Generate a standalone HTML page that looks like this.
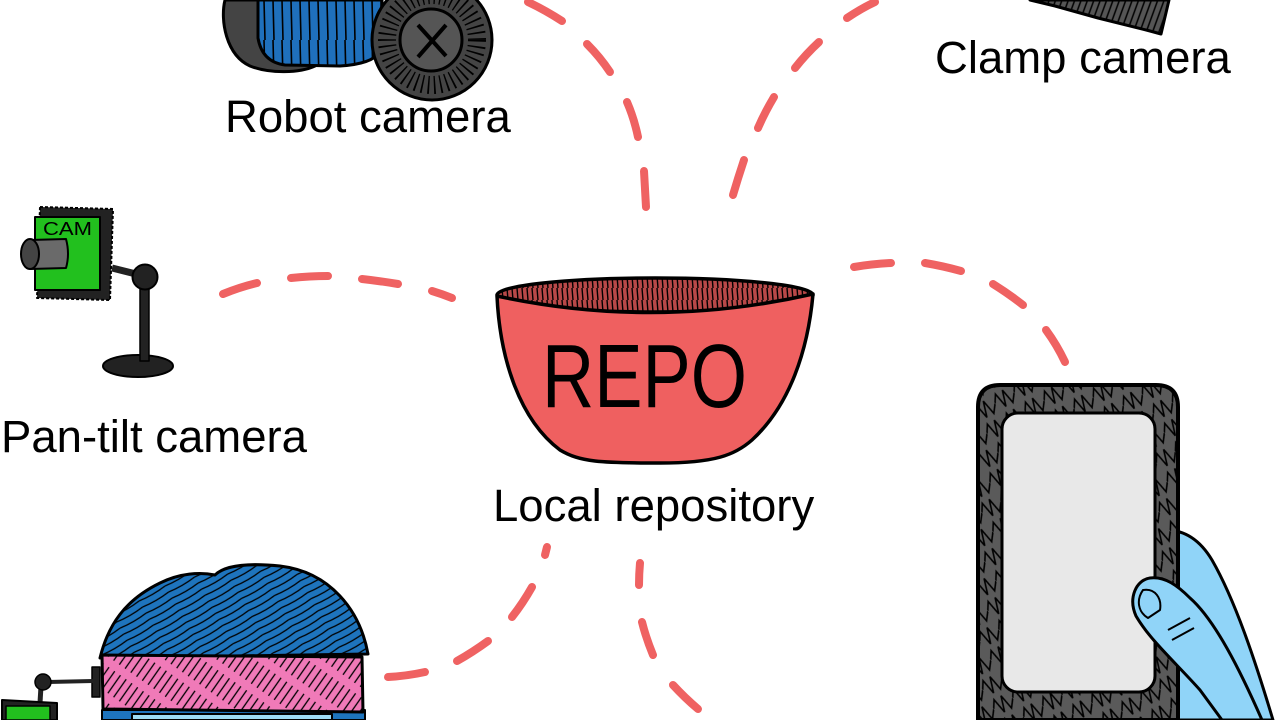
<!DOCTYPE html>
<html><head><meta charset="utf-8">
<style>
html,body{margin:0;padding:0;background:#fff;width:1280px;height:720px;overflow:hidden;}
svg{display:block;overflow:hidden;}
.lbl{font-family:"Liberation Sans",Arial,sans-serif;font-size:45.5px;fill:#000;}
</style></head>
<body>
<svg width="1280" height="720" viewBox="0 0 1280 720" xmlns="http://www.w3.org/2000/svg">
<defs>
  <clipPath id="frame"><rect x="0" y="0" width="1280" height="720"/></clipPath>
  <pattern id="vh" width="5" height="12" patternUnits="userSpaceOnUse">
    <rect width="5" height="12" fill="#b84848"/>
    <path d="M2,0 L3,12" stroke="#000" stroke-width="1.4"/>
  </pattern>
  <pattern id="bodyh" width="9" height="40" patternUnits="userSpaceOnUse">
    <rect width="9" height="40" fill="#1f70bd"/>
    <path d="M3,0 L4,40" stroke="#000" stroke-width="1.6"/>
  </pattern>
  <pattern id="hairp" width="7" height="30" patternUnits="userSpaceOnUse" patternTransform="rotate(60)">
    <rect width="7" height="30" fill="#1e74bd"/>
    <path d="M2,0 Q4,15 2,30" stroke="#000" stroke-width="1.3" fill="none"/>
  </pattern>
  <pattern id="bandp" width="7" height="30" patternUnits="userSpaceOnUse" patternTransform="rotate(35)">
    <rect width="7" height="30" fill="#f07ab8"/>
    <path d="M3,4 L3,26" stroke="#000" stroke-width="1.3"/>
  </pattern>
  <pattern id="grayh" width="6" height="30" patternUnits="userSpaceOnUse" patternTransform="rotate(20)">
    <rect width="6" height="30" fill="#555"/>
    <path d="M2,0 L2,30" stroke="#000" stroke-width="1.5"/>
  </pattern>
  <pattern id="zig" width="22" height="22" patternUnits="userSpaceOnUse" patternTransform="rotate(-30)">
    <rect width="22" height="22" fill="#5a5a5a"/>
    <path d="M0,11 L5,3 L8,19 L13,3 L16,19 L22,11" stroke="#000" stroke-width="1.6" fill="none"/>
  </pattern>
</defs>

<g clip-path="url(#frame)">
<!-- dashed connectors -->
<g stroke="#ef6262" stroke-width="8" stroke-linecap="round" fill="none">
  <path d="M528,2 Q545,10 562,21"/>
  <path d="M587,44 Q600,57 610,72"/>
  <path d="M627,102 Q634,118 638,137"/>
  <path d="M644,171 Q645,190 646,207"/>
  <path d="M875,2 Q862,8 847,18"/>
  <path d="M819,42 Q806,54 795,68"/>
  <path d="M774,97 Q765,112 758,128"/>
  <path d="M744,160 Q738,178 733,195"/>
  <path d="M223,294 Q240,287 257,283"/>
  <path d="M291,278 Q310,276 328,276"/>
  <path d="M362,279 Q380,281 398,284"/>
  <path d="M432,291 Q442,294 452,298"/>
  <path d="M854,267 Q872,264 891,263"/>
  <path d="M925,263 Q943,266 961,271"/>
  <path d="M993,284 Q1009,294 1023,305"/>
  <path d="M1046,330 Q1057,345 1065,362"/>
  <path d="M547,547 L545,555"/>
  <path d="M532,587 Q523,603 512,617"/>
  <path d="M488,641 Q473,652 457,661"/>
  <path d="M425,672 Q407,676 388,677"/>
  <path d="M640,563 Q639,574 639,585"/>
  <path d="M642,622 Q646,638 653,655"/>
  <path d="M673,685 Q685,698 698,709"/>
</g>

<!-- Robot camera -->
<g stroke="#000" stroke-linejoin="round">
  <path d="M225,0 C220,20 226,55 250,66 C270,74 300,73 315,66 L318,0 Z" fill="#444" stroke-width="3"/>
  <path d="M258,0 L382,0 L380,52 Q372,64 340,66 L285,65 Q262,62 258,38 Z" fill="url(#bodyh)" stroke-width="3"/>
  <circle cx="432" cy="40" r="60" fill="#444" stroke-width="3"/>
  <circle cx="432" cy="40" r="45" fill="none" stroke="#000" stroke-width="18" stroke-dasharray="1.6 4.5"/>
  <circle cx="431" cy="40" r="31" fill="#555" stroke-width="3"/>
  <path d="M418,25 L446,56 M446,25 L418,57" stroke-width="4" fill="none"/>
</g>
<text class="lbl" x="225" y="132">Robot camera</text>

<!-- Clamp camera -->
<polygon points="1030,0 1169,0 1161,34 1150,31 1098,18 1055,6" fill="url(#grayh)" stroke="#000" stroke-width="3" stroke-linejoin="round"/>
<text class="lbl" x="935" y="73">Clamp camera</text>

<!-- Pan-tilt camera -->
<g stroke="#000" stroke-linejoin="round">
  <ellipse cx="138" cy="366" rx="35" ry="11" fill="#222" stroke-width="2"/>
  <rect x="140" y="285" width="9" height="76" fill="#222" stroke-width="1.5"/>
  <path d="M112,268 L140,275" stroke-width="7" stroke="#222"/>
  <circle cx="145" cy="277" r="12.5" fill="#222" stroke-width="2"/>
  <polygon points="40,207 113,209 110,300 37,298" fill="#222" stroke-width="2" stroke-dasharray="3 2"/>
  <rect x="35" y="217" width="65" height="73" fill="#22c01e" stroke-width="2"/>
  <path d="M30,240 L66,239 Q70,254 66,268 L30,269 Z" fill="#6a6a6a" stroke-width="2"/>
  <ellipse cx="30" cy="254" rx="9" ry="15" fill="#444" stroke-width="2"/>
</g>
<text x="43" y="235" font-family="Liberation Sans, sans-serif" font-size="18" textLength="49" lengthAdjust="spacingAndGlyphs" fill="#000">CAM</text>
<text class="lbl" x="1" y="452">Pan-tilt camera</text>

<!-- Bowl -->
<g stroke="#000" stroke-width="3.5" stroke-linejoin="round">
  <ellipse cx="655" cy="295" rx="158" ry="17" fill="url(#vh)"/>
  <path d="M497,296 C500,360 520,420 560,450 C580,462 600,463 660,463 C715,463 735,455 752,440 C790,405 808,350 813,294 Q655,330 497,296 Z" fill="#ef6060"/>
</g>
<text x="542" y="407" font-family="Liberation Sans, sans-serif" font-size="90" textLength="205" lengthAdjust="spacingAndGlyphs" fill="#000">REPO</text>
<text class="lbl" x="493" y="521">Local repository</text>

<!-- Phone and hand -->
<g stroke="#000" stroke-linejoin="round">
  <path d="M1166,530 C1185,530 1200,540 1212,560 C1235,600 1255,660 1273,720 L1150,720 Z" fill="#90d4f8" stroke-width="3"/>
  <path d="M978,720 L978,407 Q978,385 1000,385 L1156,385 Q1178,385 1178,407 L1178,720 Z" fill="url(#zig)" stroke-width="4"/>
  <rect x="1002" y="413" width="153" height="279" rx="16" fill="#e8e8e8" stroke-width="3"/>
  <path d="M1150,578 C1136,580 1128,598 1136,616 C1150,640 1175,662 1200,690 L1222,720 L1262,720 C1240,670 1215,620 1190,598 C1178,586 1165,576 1150,578 Z" fill="#90d4f8" stroke-width="3"/>
  <path d="M1143,590 C1136,600 1138,612 1148,618 L1160,610 C1162,598 1155,588 1143,590 Z" fill="none" stroke-width="2"/>
  <path d="M1168,630 L1190,618 M1172,640 L1194,628" stroke-width="2" fill="none"/>
</g>

<!-- Head with headband camera -->
<g stroke="#000" stroke-linejoin="round">
  <path d="M100,658 C108,625 125,600 160,583 C180,573 200,572 215,575 C225,565 250,563 280,566 C330,572 360,610 368,654 Z" fill="url(#hairp)" stroke-width="3"/>
  <rect x="102" y="710" width="263" height="10" fill="#1e74bd" stroke-width="2"/>
  <rect x="132" y="714" width="200" height="6" fill="#9edcf5" stroke-width="2"/>
  <polygon points="102,655 362,657 363,712 103,709" fill="url(#bandp)" stroke-width="3"/>
  <rect x="92" y="667" width="8" height="30" fill="#222" stroke-width="1.5"/>
  <path d="M48,682 L93,681" stroke-width="4" stroke="#222"/>
  <path d="M41,686 L40,703" stroke-width="5" stroke="#222"/>
  <circle cx="43" cy="682" r="8" fill="#222" stroke-width="1.5"/>
  <polygon points="2,700 57,703 57,720 2,720" fill="#222" stroke-width="2"/>
  <rect x="6" y="706" width="44" height="14" fill="#22c01e" stroke-width="1.5"/>
</g>
</g>
</svg>
</body></html>
